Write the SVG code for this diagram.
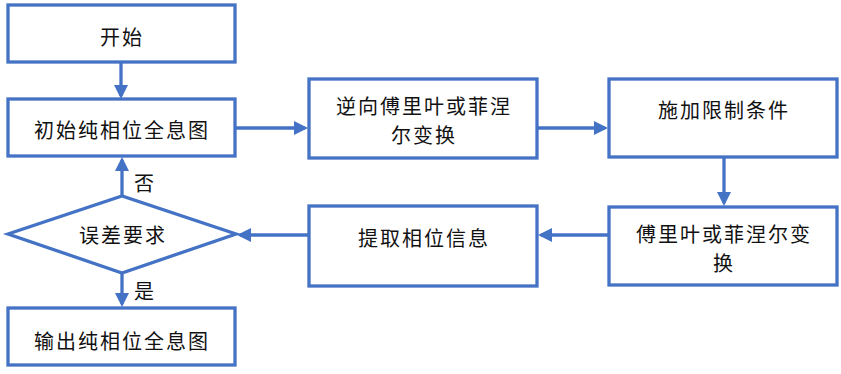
<svg xmlns="http://www.w3.org/2000/svg" width="841" height="374" viewBox="0 0 841 374">
<style>
.box{fill:#fff;stroke:#4472C4;stroke-width:3.3}
.t{font-family:"Noto Sans CJK SC","Noto Sans",sans-serif;font-size:20px;letter-spacing:2px;fill:#111;text-anchor:middle;dominant-baseline:central}
.c{fill:none;stroke:#4472C4;stroke-width:3.3}
</style>
<defs>
<marker id="ah" markerUnits="userSpaceOnUse" markerWidth="16" markerHeight="16" refX="11" refY="7" orient="auto">
<path d="M0,0 L14,7 L0,14 z" fill="#4472C4"/>
</marker>
</defs>
<rect width="841" height="374" fill="#fff"/>
<g id="connectors">
<path class="c" d="M121,62 V96" marker-end="url(#ah)"/>
<path class="c" d="M235,128 H305" marker-end="url(#ah)"/>
<path class="c" d="M537,128 H605" marker-end="url(#ah)"/>
<path class="c" d="M724,158 V203" marker-end="url(#ah)"/>
<path class="c" d="M609,235 H541" marker-end="url(#ah)"/>
<path class="c" d="M309,235 H240" marker-end="url(#ah)"/>
<path class="c" d="M122,196 V160" marker-end="url(#ah)"/>
<path class="c" d="M122,273 V304" marker-end="url(#ah)"/>
<text class="t" x="145" y="182">否</text>
<text class="t" x="145" y="290">是</text>
</g>
<g id="n-start">
<rect class="box" x="8" y="5" width="227" height="57"/>
<text class="t" x="122" y="36">开始</text>
</g>
<g id="n-init">
<rect class="box" x="8" y="99" width="227" height="57"/>
<text class="t" x="122" y="129">初始纯相位全息图</text>
</g>
<g id="n-ift">
<rect class="box" x="309" y="79" width="228" height="79"/>
<text class="t" x="424" y="105">逆向傅里叶或菲涅</text>
<text class="t" x="424" y="134">尔变换</text>
</g>
<g id="n-constraint">
<rect class="box" x="609" y="79" width="228" height="78"/>
<text class="t" x="724" y="109">施加限制条件</text>
</g>
<g id="n-ft">
<rect class="box" x="609" y="207" width="228" height="78"/>
<text class="t" x="724" y="233">傅里叶或菲涅尔变</text>
<text class="t" x="724" y="262">换</text>
</g>
<g id="n-extract">
<rect class="box" x="309" y="206" width="228" height="80"/>
<text class="t" x="424" y="237">提取相位信息</text>
</g>
<g id="n-check">
<polygon class="box" points="8,234 122,196 236,234 122,273"/>
<text class="t" x="123" y="234">误差要求</text>
</g>
<g id="n-output">
<rect class="box" x="8" y="308" width="227" height="57"/>
<text class="t" x="122" y="340">输出纯相位全息图</text>
</g>
</svg>
